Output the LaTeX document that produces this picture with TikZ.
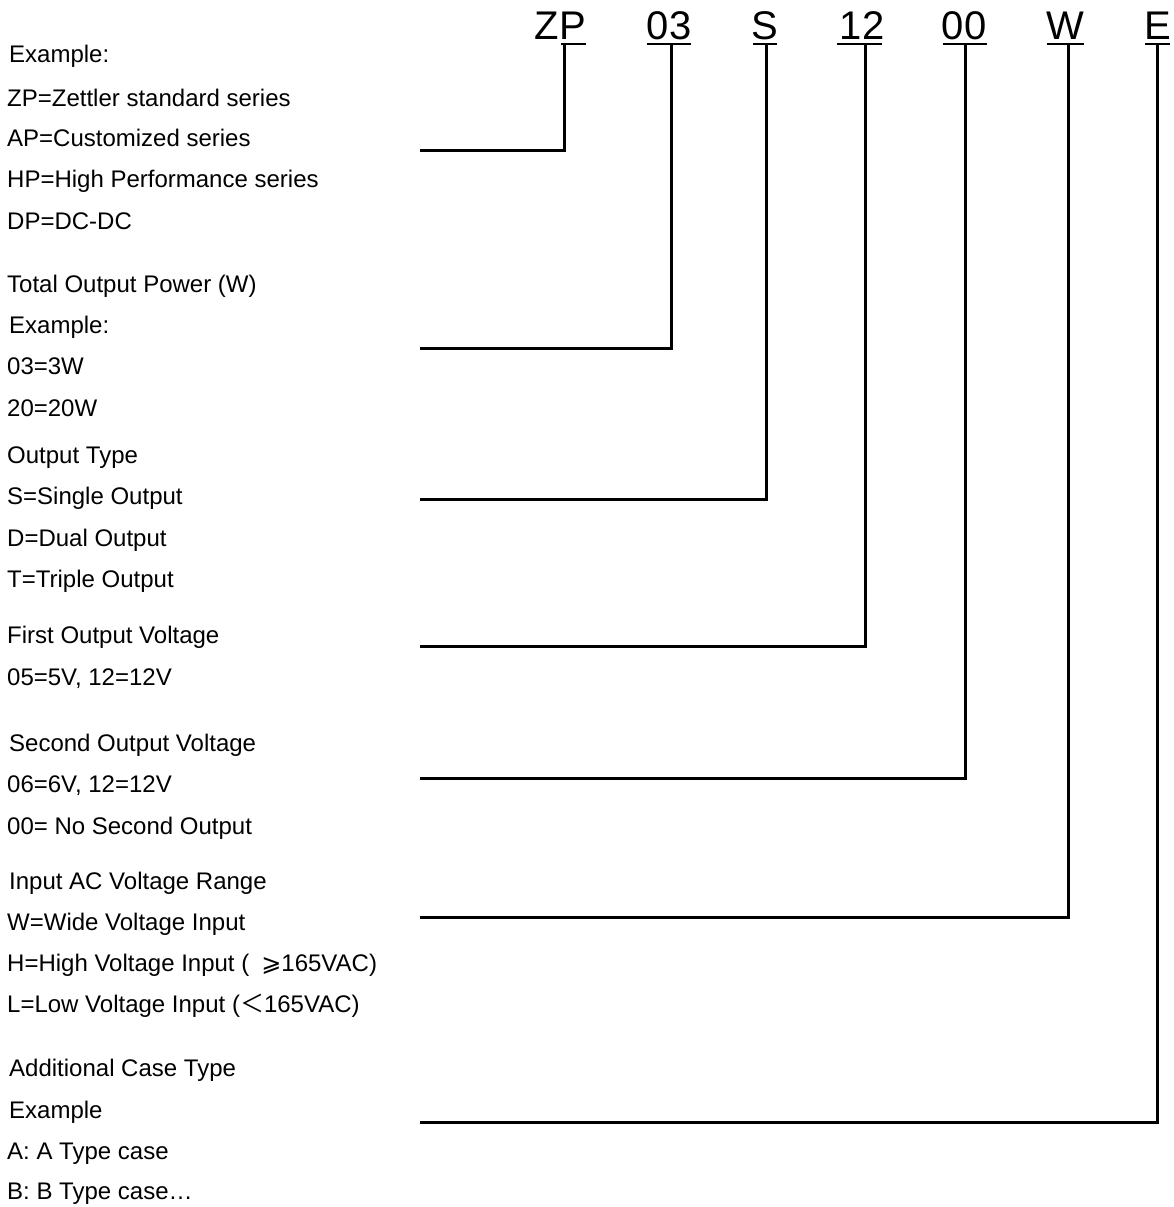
\documentclass[tikz,border=0pt]{standalone}
\usepackage{fontspec}
\setmainfont{Liberation Sans}
\newfontfamily\symfont{DejaVu Sans}
\newfontfamily\cjkfont{Noto Sans CJK SC}
\begin{document}
\begin{tikzpicture}[x=1pt,y=-1pt,
  lbl/.style={anchor=base west,inner sep=0pt,font=\fontsize{24}{28}\selectfont},
  code/.style={anchor=base,inner sep=0pt,font=\fontsize{40}{44}\selectfont},
  uline/.style={line width=2pt},
  conn/.style={line width=3pt}]
\useasboundingbox (0,0) rectangle (1174,1207);
% code letters
\node[code] (cZP) at (560.5,40) {ZP};
\node[code] (c03) at (669,40) {03};
\node[code] (cS)  at (764.5,40) {S};
\node[code] (c12) at (862,40) {12};
\node[code] (c00) at (964,40) {00};
\node[code] (cW)  at (1065.5,40) {W};
\node[code] (cE)  at (1158,40) {E};
% underlines
\draw[uline] (561,44) -- (586,44);
\draw[uline] (647,44) -- (691,44);
\draw[uline] (753,44) -- (777,44);
\draw[uline] (837,44) -- (882,44);
\draw[uline] (943,44) -- (987,44);
\draw[uline] (1047,44) -- (1084,44);
\draw[uline] (1145,44) -- (1170,44);
% connector ends
\coordinate (tZP) at (564,43);   \coordinate (eZP) at (420,150);
\coordinate (t03) at (671,43);   \coordinate (e03) at (420,348);
\coordinate (tS)  at (766,43);   \coordinate (eS)  at (420,499);
\coordinate (t12) at (865,43);   \coordinate (e12) at (420,646);
\coordinate (t00) at (965,43);   \coordinate (e00) at (420,778);
\coordinate (tW)  at (1068,43);  \coordinate (eW)  at (420,917);
\coordinate (tE)  at (1157,43);  \coordinate (eE)  at (420,1122);
\draw[conn] (tZP) |- (eZP);
\draw[conn] (t03) |- (e03);
\draw[conn] (tS)  |- (eS);
\draw[conn] (t12) |- (e12);
\draw[conn] (t00) |- (e00);
\draw[conn] (tW)  |- (eW);
\draw[conn] (tE)  |- (eE);
% labels
\node[lbl] (l1)  at (9,63)   {Example:};
\node[lbl] (l2)  at (7,106)  {ZP=Zettler standard series};
\node[lbl] (l3)  at (7,146)  {AP=Customized series};
\node[lbl] (l4)  at (7,187)  {HP=High Performance series};
\node[lbl] (l5)  at (7,229)  {DP=DC-DC};
\node[lbl] (l6)  at (7,292)  {Total Output Power (W)};
\node[lbl] (l7)  at (9,333)  {Example:};
\node[lbl] (l8)  at (7,374)  {03=3W};
\node[lbl] (l9)  at (7,416)  {20=20W};
\node[lbl] (l10) at (7,463)  {Output Type};
\node[lbl] (l11) at (7,504)  {S=Single Output};
\node[lbl] (l12) at (7,546)  {D=Dual Output};
\node[lbl] (l13) at (7,587)  {T=Triple Output};
\node[lbl] (l14) at (7,643)  {First Output Voltage};
\node[lbl] (l15) at (7,685)  {05=5V, 12=12V};
\node[lbl] (l16) at (9,751)  {Second Output Voltage};
\node[lbl] (l17) at (7,792)  {06=6V, 12=12V};
\node[lbl] (l18) at (7,834)  {00= No Second Output};
\node[lbl] (l19) at (9,889)  {Input AC Voltage Range};
\node[lbl] (l20) at (7,930)  {W=Wide Voltage Input};
\node[lbl] (l21) at (7,971)  {H=High Voltage Input (\hspace{0.5em}{\symfont ⩾}165VAC)};
\node[lbl] (l22) at (7,1012) {L=Low Voltage Input ({\cjkfont ＜}165VAC)};
\node[lbl] (l23) at (9,1076) {Additional Case Type};
\node[lbl] (l24) at (9,1118) {Example};
\node[lbl] (l25) at (7,1159) {A: A Type case};
\node[lbl] (l26) at (7,1199) {B: B Type case…};
\end{tikzpicture}
\end{document}
